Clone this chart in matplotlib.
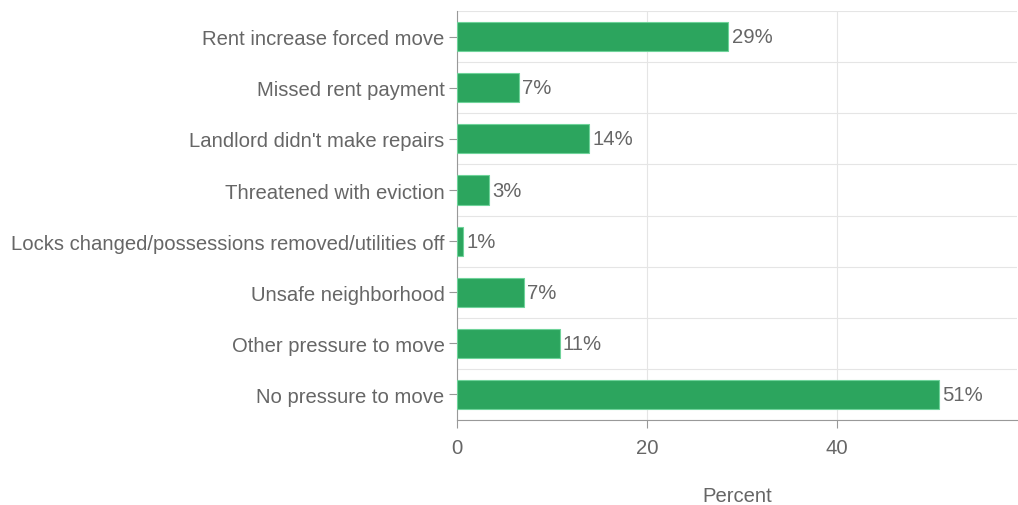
import matplotlib.pyplot as plt
import numpy as np

categories = [
    "Rent increase forced move",
    "Missed rent payment",
    "Landlord didn't make repairs",
    "Threatened with eviction",
    "Locks changed/possessions removed/utilities off",
    "Unsafe neighborhood",
    "Other pressure to move",
    "No pressure to move",
]
values = [28.6, 6.5, 13.9, 3.4, 0.6, 7.0, 10.8, 50.8]
labels = ["29%", "7%", "14%", "3%", "1%", "7%", "11%", "51%"]

plt.rcParams['font.family'] = ['Liberation Sans', 'DejaVu Sans']
text_color = "#666666"
bar_color = "#2ca55e"
fs = 14.6

fig = plt.figure(figsize=(10.18, 5.06), dpi=100)
ax = fig.add_axes([0.449, 0.168, 0.550, 0.808])

y = np.arange(len(categories))
ax.barh(y, values, height=0.57, color=bar_color, edgecolor="#6fd39a", linewidth=0.8, zorder=3)
for yi, v, lab in zip(y, values, labels):
    ax.text(v + 0.35, yi, lab, va="center", ha="left", fontsize=fs, color=text_color)

ax.set_ylim(len(categories) - 0.5, -0.5)
ax.set_xlim(0, 59)
ax.set_yticks(y)
ax.set_yticklabels(categories, fontsize=fs, color=text_color)
ax.set_xticks([0, 20, 40])
ax.tick_params(axis="x", labelsize=fs, labelcolor=text_color, color="#999999", length=6, pad=7)
ax.tick_params(axis="y", color="#999999", length=6, pad=3)

# grid: verticals at ticks, horizontals between categories
ax.set_yticks(np.arange(len(categories) + 1) - 0.5, minor=True)
ax.tick_params(axis="y", which="minor", length=0)
ax.grid(axis="x", which="major", color="#e5e5e5", linewidth=0.8, zorder=0)
ax.grid(axis="y", which="minor", color="#e5e5e5", linewidth=0.8, zorder=0)

for side in ["top", "right"]:
    ax.spines[side].set_visible(False)
ax.spines["left"].set_color("#999999")
ax.spines["bottom"].set_color("#999999")

ax.set_xlabel("Percent", fontsize=fs, color=text_color, labelpad=21)

fig.savefig("out.png", dpi=100)
